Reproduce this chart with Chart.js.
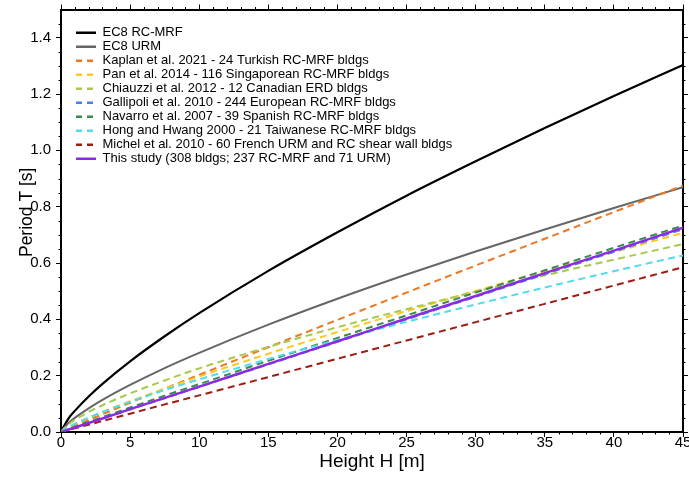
<!DOCTYPE html>
<html>
<head>
<meta charset="utf-8">
<script src="https://cdn.jsdelivr.net/npm/chart.js@4.4.1/dist/chart.umd.min.js"></script>
<style>
  html, body { margin: 0; padding: 0; background: #fff; }
</style>
</head>
<body>
<canvas id="periodChart" width="689" height="482"></canvas>
<script>
// building height [m] and period [s]
const heights   = [0, 0.5, 1, 2, 3, 5, 7.5, 10, 15, 20, 25, 30, 35, 40, 45];
const ec8Rc     = [0, 0.045, 0.075, 0.126, 0.171, 0.251, 0.340, 0.422, 0.572, 0.709, 0.839, 0.961, 1.079, 1.193, 1.303];
const ec8Urm    = [0, 0.030, 0.050, 0.084, 0.114, 0.167, 0.227, 0.281, 0.381, 0.473, 0.559, 0.641, 0.719, 0.795, 0.869];
const kaplan    = [0, 0.011, 0.022, 0.043, 0.063, 0.104, 0.154, 0.203, 0.301, 0.398, 0.495, 0.591, 0.686, 0.781, 0.875];
const pan       = [0, 0.015, 0.028, 0.050, 0.071, 0.109, 0.154, 0.197, 0.278, 0.355, 0.429, 0.501, 0.571, 0.639, 0.707];
const chiauzzi  = [0, 0.026, 0.043, 0.071, 0.095, 0.137, 0.183, 0.226, 0.302, 0.372, 0.436, 0.498, 0.556, 0.612, 0.667];
const gallipoli = [0, 0.008, 0.016, 0.032, 0.048, 0.080, 0.120, 0.160, 0.240, 0.320, 0.400, 0.480, 0.560, 0.640, 0.720];
const navarro   = [0, 0.009, 0.018, 0.036, 0.053, 0.087, 0.129, 0.170, 0.253, 0.334, 0.414, 0.495, 0.574, 0.654, 0.733];
const hongHwang = [0, 0.017, 0.029, 0.051, 0.071, 0.107, 0.149, 0.187, 0.259, 0.327, 0.391, 0.453, 0.513, 0.571, 0.627];
const michel    = [0, 0.0065, 0.013, 0.026, 0.039, 0.065, 0.098, 0.130, 0.195, 0.260, 0.325, 0.390, 0.455, 0.520, 0.585];
const thisStudy = [0, 0.008, 0.016, 0.032, 0.048, 0.081, 0.121, 0.161, 0.242, 0.322, 0.403, 0.483, 0.564, 0.644, 0.725];

const seriesLabels = [
  'EC8 RC-MRF',
  'EC8 URM',
  'Kaplan et al. 2021 - 24 Turkish RC-MRF bldgs',
  'Pan et al. 2014 - 116 Singaporean RC-MRF bldgs',
  'Chiauzzi et al. 2012 - 12 Canadian ERD bldgs',
  'Gallipoli et al. 2010 - 244 European RC-MRF bldgs',
  'Navarro et al. 2007 - 39 Spanish RC-MRF bldgs',
  'Hong and Hwang 2000 - 21 Taiwanese RC-MRF bldgs',
  'Michel et al. 2010 - 60 French URM and RC shear wall bldgs',
  'This study (308 bldgs; 237 RC-MRF and 71 URM)'
];
const seriesValues = [ec8Rc, ec8Urm, kaplan, pan, chiauzzi, gallipoli, navarro, hongHwang, michel, thisStudy];
const seriesColors = ['#000000', '#666666', '#ee7722', '#ffc81e', '#a6c94e', '#4a7fee', '#3a8a4e', '#4cdcee', '#9c1e12', '#8a2be2'];
const seriesDashed = [false, false, true, true, true, true, true, true, true, false];
const seriesWidths = [2.2, 2, 2, 2, 2, 2, 2, 2, 2, 2.5];

const xMin = 0, xMax = 45, xStep = 5, xMinor = 1;
const yMin = 0, yMax = 1.5, yStep = 0.2, yMinor = 0.05;
const yTitle = 'Period T [s]';

const fontFamily = '"Liberation Sans", Arial, Helvetica, sans-serif';
Chart.defaults.font.family = fontFamily;
Chart.defaults.color = '#000';

const datasets = seriesLabels.map((label, i) => ({
  label: label,
  data: heights.map((h, j) => ({ x: h, y: seriesValues[i][j] })),
  borderColor: seriesColors[i],
  backgroundColor: seriesColors[i],
  borderWidth: seriesWidths[i],
  borderDash: seriesDashed[i] ? [7, 4.5] : [],
  pointRadius: 0,
  cubicInterpolationMode: 'monotone',
  fill: false,
  order: seriesLabels.length - i
}));

// fixed box sizes so the plot frame lands where the original one is
function fixSize(w, h) {
  return function(scale) {
    if (w !== null) scale.width = w;
    if (h !== null) scale.height = h;
    scale.paddingLeft = 0; scale.paddingRight = 0;
    scale.paddingTop = 0; scale.paddingBottom = 0;
  };
}

// the chartArea legend gets top = 0 after layout, so place it by hand
const legendShift = {
  id: 'legendShift',
  afterLayout(chart) {
    chart.legend.left = chart.chartArea.left + 14;
    chart.legend.top = chart.chartArea.top + 15.7;
  }
};

// minor ticks on all four sides + the y axis title (sits a bit above centre in the original)
const axisExtras = {
  id: 'axisExtras',
  afterDraw(chart) {
    const { ctx, chartArea: a, scales } = chart;
    const len = 2.5;
    ctx.save();
    ctx.strokeStyle = '#000';
    ctx.lineWidth = 1;
    ctx.beginPath();
    for (let v = xMin + xMinor; v < xMax; v += xMinor) {
      if (Math.abs(v / xStep - Math.round(v / xStep)) < 1e-6) continue;
      const px = Math.round(scales.x.getPixelForValue(v)) + 0.5;
      ctx.moveTo(px, a.bottom); ctx.lineTo(px, a.bottom + len);
      ctx.moveTo(px, a.top); ctx.lineTo(px, a.top - len);
    }
    for (let k = 1; k * yMinor < yMax - 1e-6; k++) {
      const v = k * yMinor;
      if (Math.abs(v / yStep - Math.round(v / yStep)) < 1e-6) continue;
      const py = Math.round(scales.y.getPixelForValue(v)) + 0.5;
      ctx.moveTo(a.left, py); ctx.lineTo(a.left - len, py);
      ctx.moveTo(a.right, py); ctx.lineTo(a.right + len, py);
    }
    ctx.stroke();

    ctx.translate(27, scales.y.getPixelForValue(0.78));
    ctx.rotate(-Math.PI / 2);
    ctx.font = '17.5px ' + fontFamily;
    ctx.fillStyle = '#000';
    ctx.textAlign = 'center';
    ctx.textBaseline = 'middle';
    ctx.fillText(yTitle, 0, 0);
    ctx.restore();
  }
};

const gridOpts = {
  drawOnChartArea: false,
  drawTicks: true,
  tickLength: 5,
  tickColor: '#000',
  tickWidth: 1
};
const borderOpts = { display: true, color: '#000', width: 2 };

new Chart(document.getElementById('periodChart'), {
  type: 'line',
  data: { datasets: datasets },
  plugins: [legendShift, axisExtras],
  options: {
    responsive: false,
    animation: false,
    devicePixelRatio: 1,
    layout: { padding: 0 },
    plugins: {
      tooltip: { enabled: false },
      legend: {
        position: 'chartArea',
        align: 'start',
        labels: {
          usePointStyle: true,
          pointStyle: 'line',
          pointStyleWidth: 20,
          padding: 1,
          color: '#000',
          font: { size: 13 },
          sort: (a, b) => a.datasetIndex - b.datasetIndex,
          generateLabels: chart =>
            Chart.defaults.plugins.legend.labels.generateLabels(chart).map(item => ({
              ...item,
              lineDash: seriesDashed[item.datasetIndex] ? [6, 5] : [],
              lineWidth: 2.5
            }))
        }
      }
    },
    scales: {
      x: {
        type: 'linear',
        position: 'bottom',
        min: xMin, max: xMax,
        grid: gridOpts,
        border: borderOpts,
        ticks: { stepSize: xStep, padding: -3, maxRotation: 0, font: { size: 15 }, color: '#000' },
        title: { display: true, text: 'Height H [m]', font: { size: 19 }, color: '#000', padding: { top: 0, bottom: 9 } },
        afterFit: fixSize(null, 50)
      },
      x2: {
        type: 'linear',
        position: 'top',
        min: xMin, max: xMax,
        grid: gridOpts,
        border: borderOpts,
        ticks: { stepSize: xStep, display: false },
        afterFit: fixSize(null, 9.5)
      },
      y: {
        type: 'linear',
        position: 'left',
        min: yMin, max: yMax,
        grid: gridOpts,
        border: borderOpts,
        ticks: {
          stepSize: yStep, includeBounds: false, padding: 5,
          font: { size: 15 }, color: '#000',
          callback: v => v.toFixed(1)
        },
        afterFit: fixSize(61, null)
      },
      y2: {
        type: 'linear',
        position: 'right',
        min: yMin, max: yMax,
        grid: gridOpts,
        border: borderOpts,
        ticks: { stepSize: yStep, includeBounds: false, display: false },
        afterFit: fixSize(6, null)
      }
    }
  }
});
</script>
</body>
</html>
